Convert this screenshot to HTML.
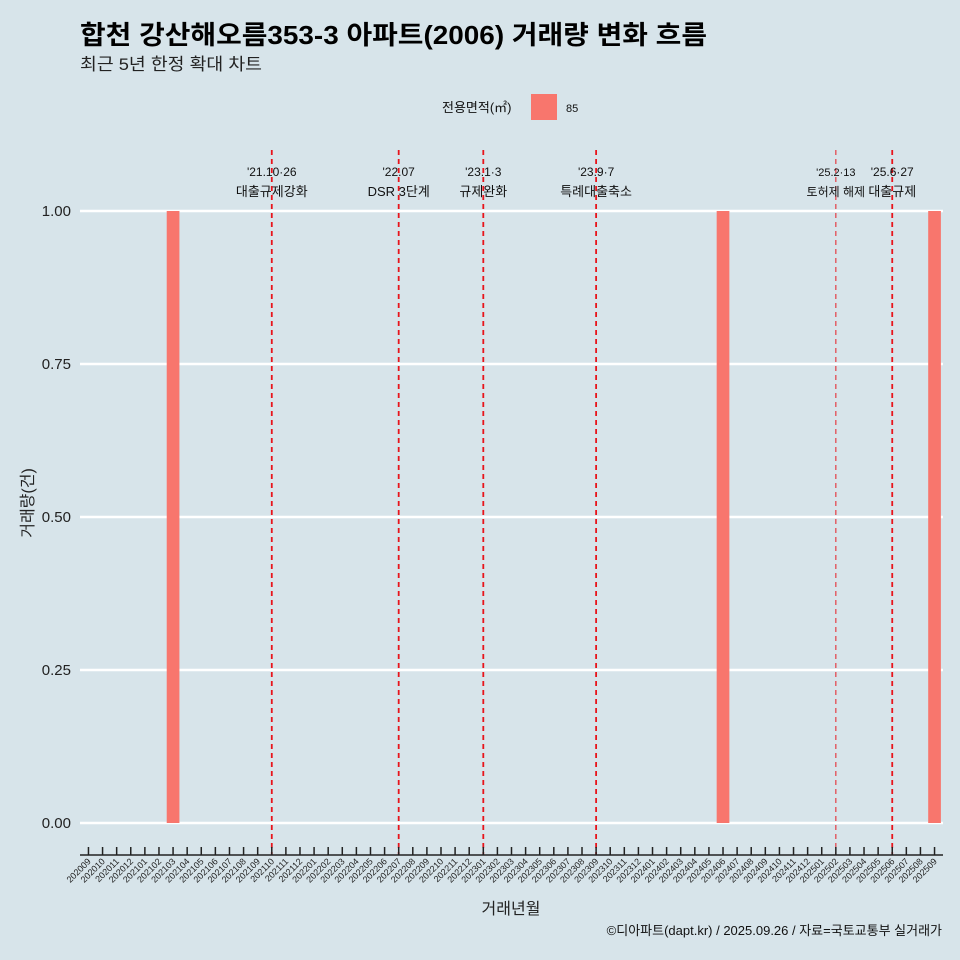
<!DOCTYPE html>
<html><head><meta charset="utf-8"><style>
body{margin:0;background:#d7e4ea;}
svg{display:block;font-family:"Liberation Sans","Noto Sans CJK KR",sans-serif;}
</style></head><body>
<svg id="c" width="960" height="960" viewBox="0 0 960 960">
<rect width="960" height="960" fill="#d7e4ea"/>
<text x="80" y="44" font-size="26" font-weight="bold" fill="#000" textLength="627" lengthAdjust="spacingAndGlyphs">합천 강산해오름353-3 아파트(2006) 거래량 변화 흐름</text>
<text x="80" y="70" font-size="17" fill="#222" textLength="182" lengthAdjust="spacingAndGlyphs">최근 5년 한정 확대 차트</text>
<g>
<text x="442" y="112" font-size="13" fill="#111">전용면적(㎡)</text>
<rect x="531" y="94" width="26" height="26" fill="#f8766d"/>
<text x="566" y="112" font-size="11" fill="#111">85</text>
</g>
<g id="grid"></g><g id="bars"></g><g id="events"></g><g id="xaxis"></g><g id="yaxis"></g>
<text transform="translate(33,503) rotate(-90)" text-anchor="middle" font-size="16" fill="#222">거래량(건)</text>
<text x="511" y="914" text-anchor="middle" font-size="16" fill="#222">거래년월</text>
<text x="942" y="935" text-anchor="end" font-size="13" fill="#111">©디아파트(dapt.kr) / 2025.09.26 / 자료=국토교통부 실거래가</text>
</svg>
<script>
const categories=[];for(let y=2020,m=9;y*100+m<=202509;){categories.push(String(y*100+m));m++;if(m>12){m=1;y++;}}
const barMonths=["202103","202406","202509"];
const barValues=[1,1,1];
const yTicks=[0,0.25,0.5,0.75,1];
const yTickLabels=["0.00","0.25","0.50","0.75","1.00"];
const eventMonths=["202110","202207","202301","202309","202502","202506"];
const eventDates=["'21.10·26","'22.07","'23.1·3","'23.9·7","'25.2·13","'25.6·27"];
const eventNames=["대출규제강화","DSR 3단계","규제완화","특례대출축소","토허제 해제","대출규제"];
const NS="http://www.w3.org/2000/svg";
const L=80,R=943,step=(R-L)/(categories.length-1+1.2);
const xs=c=>L+(0.6+categories.indexOf(c))*step;
const ys=v=>823-v*612;
function el(t,a,p){const e=document.createElementNS(NS,t);for(const k in a)e.setAttribute(k,a[k]);p.appendChild(e);return e;}
const g=document.getElementById('grid'),b=document.getElementById('bars'),ev=document.getElementById('events'),xa=document.getElementById('xaxis'),ya=document.getElementById('yaxis');
yTicks.forEach((v,i)=>{
 const l=el('line',{x1:L,x2:R,y1:ys(v),y2:ys(v),stroke:'#fff','stroke-width':2.4},g);
 
 
 const t=el('text',{x:71,y:ys(v)+5,'text-anchor':'end','font-size':15,fill:'#222'},ya);t.textContent=yTickLabels[i];
 
 
});
barMonths.forEach((m,i)=>{
 const w=step*0.9;
 const r=el('rect',{x:xs(m)-w/2,y:ys(barValues[i]),width:w,height:ys(0)-ys(barValues[i]),fill:'#f8766d'},b);
 
 
});
eventMonths.forEach((m,i)=>{
 const x=xs(m),thin=m==="202502";
 const l=el('line',{x1:x,x2:x,y1:150,y2:855,stroke:'#e8141b','stroke-width':thin?1.2:1.8,'stroke-dasharray':'5,4',opacity:thin?0.8:1},ev);
 
 
 const fs=thin?11:12;
 const t1=el('text',{x:x,y:176,'text-anchor':'middle','font-size':fs,fill:'#111'},ev);t1.textContent=eventDates[i];
 
 
 const t2=el('text',{x:x,y:196,'text-anchor':'middle','font-size':fs+1,fill:'#111'},ev);t2.textContent=eventNames[i];
 
 
});
const ax=el('line',{x1:L,x2:R,y1:855,y2:855,stroke:'#222','stroke-width':1.5},xa);


categories.forEach(c=>{
 const x=xs(c);
 const tk=el('line',{x1:x,x2:x,y1:847,y2:855,stroke:'#222','stroke-width':1.5},xa);
 
 
 const t=el('text',{x:x+3,y:862,'text-anchor':'end','font-size':9,fill:'#222',transform:`rotate(-45 ${x+3} 862)`},xa);t.textContent=c;
 
 
});
</script>
</body></html>
